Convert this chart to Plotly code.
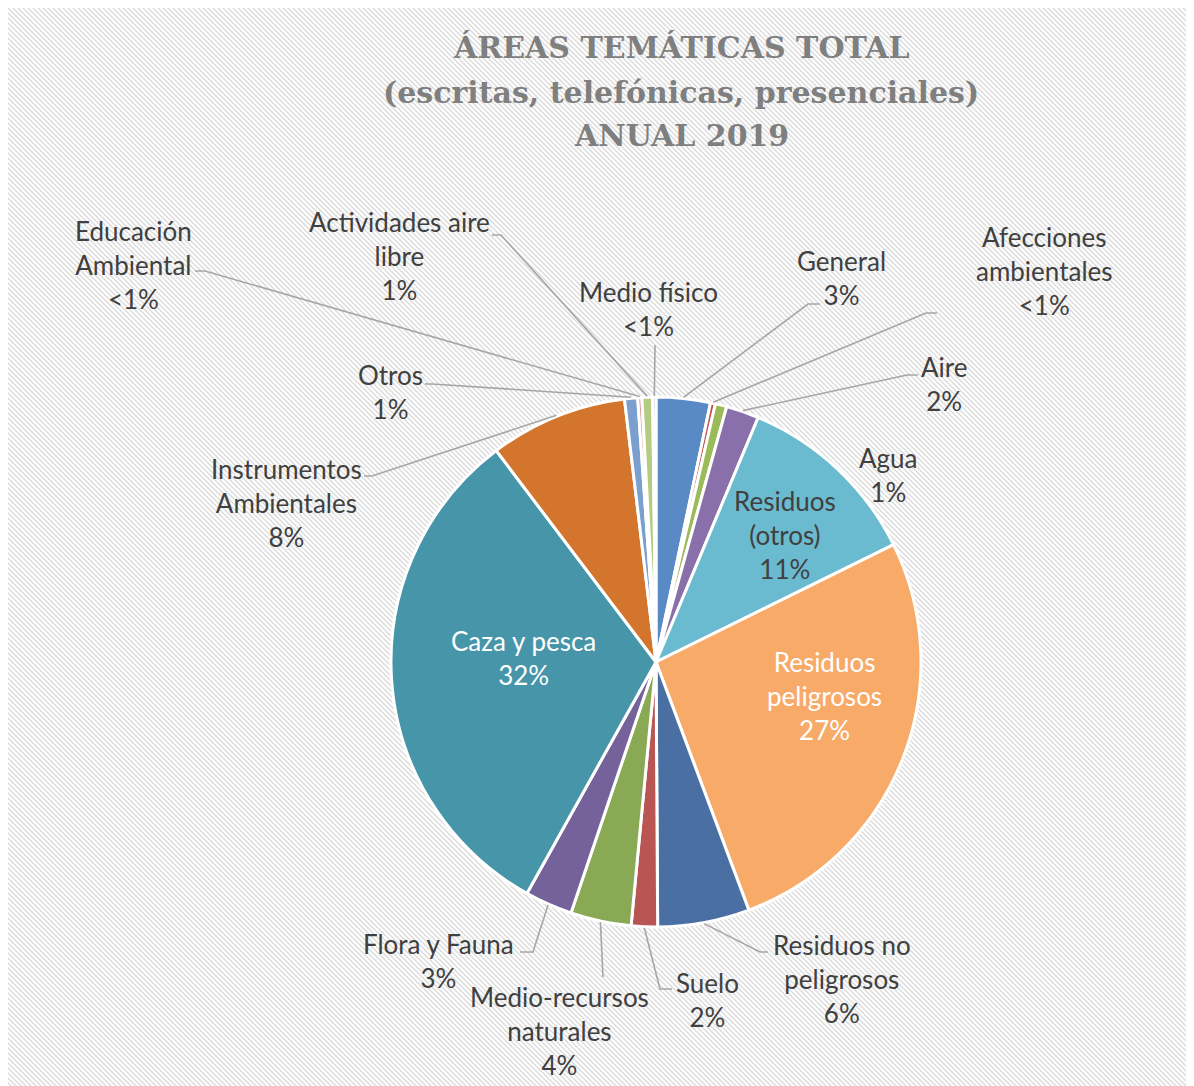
import base64
import math
import plotly.graph_objects as go

# ---------------- data ----------------
categories = [
    "General", "Afecciones ambientales", "Agua", "Aire", "Residuos (otros)",
    "Residuos peligrosos", "Residuos no peligrosos", "Suelo",
    "Medio-recursos naturales", "Flora y Fauna", "Caza y pesca",
    "Instrumentos Ambientales", "Otros", "Educación Ambiental",
    "Actividades aire libre", "Medio físico",
]
values = [3.3, 0.3, 0.7, 2.0, 11.4, 26.6, 5.6, 1.6, 3.7, 2.9, 31.6, 8.4, 0.8, 0.25, 0.65, 0.2]

title_lines = ["ÁREAS TEMÁTICAS TOTAL", "(escritas, telefónicas, presenciales)", "ANUAL 2019"]

# ---------------- styles / layout ----------------
colors = [
    "#5A8AC6", "#C0504D", "#9BBB59", "#8A70AA", "#6BBBD0", "#F8AA68",
    "#4A6FA3", "#B95653", "#8AA955", "#76629A", "#4695A9", "#D3752D",
    "#7BA0D0", "#D9908E", "#B3CC82", "#A896C2",
]

W, H = 1194, 1086          # window size
OFF = 8                    # page body margin
FW, FH = W - OFF, H - OFF  # figure size
CX, CY, R = 656, 662, 265  # pie centre / radius in window px

wrap = {
    "Afecciones ambientales": "Afecciones<br>ambientales",
    "Residuos (otros)": "Residuos<br>(otros)",
    "Residuos peligrosos": "Residuos<br>peligrosos",
    "Residuos no peligrosos": "Residuos no<br>peligrosos",
    "Medio-recursos naturales": "Medio-recursos<br>naturales",
    "Instrumentos Ambientales": "Instrumentos<br>Ambientales",
    "Educación Ambiental": "Educación<br>Ambiental",
    "Actividades aire libre": "Actividades aire<br>libre",
}
label_pos = {
    "General": (841, 278),
    "Afecciones ambientales": (1044, 271),
    "Agua": (888, 475),
    "Aire": (944, 384),
    "Residuos (otros)": (785, 535),
    "Residuos peligrosos": (824, 696),
    "Residuos no peligrosos": (842, 979),
    "Suelo": (707, 1000),
    "Medio-recursos naturales": (559, 1031),
    "Flora y Fauna": (438, 961),
    "Caza y pesca": (523, 658),
    "Instrumentos Ambientales": (286, 503),
    "Otros": (390, 392),
    "Educación Ambiental": (133, 265),
    "Actividades aire libre": (400, 256),
    "Medio físico": (648, 309),
}
white_labels = {"Caza y pesca", "Residuos peligrosos"}
leaders = {
    "General": [(808, 304), (820, 304)],
    "Afecciones ambientales": [(926, 313), (937, 313)],
    "Aire": [(907, 375), (918, 375)],
    "Residuos no peligrosos": [(760, 952), (768, 952)],
    "Suelo": [(660, 989), (672, 989)],
    "Medio-recursos naturales": [(603, 977)],
    "Flora y Fauna": [(533, 952), (520, 952)],
    "Instrumentos Ambientales": [(372, 476), (364, 476)],
    "Otros": [(432, 384), (425, 384)],
    "Educación Ambiental": [(205, 271), (195, 271)],
    "Actividades aire libre": [(501, 235), (492, 235)],
    "Medio físico": [(655, 345)],
}


def px(x, y):
    return (x - OFF) / FW, 1 - (y - OFF) / FH


dx0, dy1 = px(CX - R, CY - R)
dx1, dy0 = px(CX + R, CY + R)

fig = go.Figure()
fig.add_trace(go.Pie(
    labels=categories,
    values=values,
    sort=False,
    direction="clockwise",
    rotation=0,
    marker=dict(colors=colors, line=dict(color="white", width=3)),
    textinfo="none",
    hoverinfo="label+percent",
    showlegend=False,
    domain=dict(x=[dx0, dx1], y=[dy0, dy1]),
))

total = sum(values)
annotations = []
shapes = []
cum = 0.0
for name, v in zip(categories, values):
    pct = v / total * 100
    pct_txt = "<1%" if pct < 0.5 else f"{round(pct)}%"
    txt = wrap.get(name, name) + "<br>" + pct_txt.replace("<", "&lt;")
    lx, ly = label_pos[name]
    ax, ay = px(lx, ly)
    annotations.append(dict(
        x=ax, y=ay, xref="paper", yref="paper", text=txt, showarrow=False,
        xanchor="center", yanchor="middle", align="center",
        font=dict(family="Lato", size=26,
                  color="white" if name in white_labels else "#404040"),
    ))
    f = (cum + v / 2) / total
    cum += v
    if name in leaders:
        th = 2 * math.pi * f
        sx = CX + (R + 1) * math.sin(th)
        sy = CY - (R + 1) * math.cos(th)
        pts = [(sx, sy)] + leaders[name]
        path = ""
        for i, (x, y) in enumerate(pts):
            qx, qy = px(x, y)
            path += ("M" if i == 0 else " L") + f"{qx:.5f},{qy:.5f}"
        shapes.append(dict(type="path", path=path, xref="paper", yref="paper",
                           line=dict(color="#A6A6A6", width=1.6), layer="above"))

# title
title_y = [48, 92, 135]
for t, yy in zip(title_lines, title_y):
    ax, ay = px(681, yy)
    annotations.append(dict(
        x=ax, y=ay, xref="paper", yref="paper", text=f"<b>{t}</b>", showarrow=False,
        xanchor="center", yanchor="middle",
        font=dict(family="DejaVu Serif", size=30, color="#7F7F7F"),
    ))

# chart-area border (top & left visible)
bx0, by0 = px(7, H + 10)
bx1, by1 = px(7, 7)
bx2, by2 = px(W + 10, 7)
shapes.append(dict(type="path", xref="paper", yref="paper",
                   path=f"M{bx0:.5f},{by0:.5f} L{bx1:.5f},{by1:.5f} L{bx2:.5f},{by2:.5f}",
                   line=dict(color="#D9D9D9", width=2), layer="below"))

# hatched background
svg = f'''<svg xmlns="http://www.w3.org/2000/svg" width="{FW}" height="{FH}" viewBox="0 0 {FW} {FH}">
<defs><pattern id="h" patternUnits="userSpaceOnUse" width="5" height="5">
<rect width="5" height="5" fill="#ffffff"/>
<path d="M-1,-1 L6,6 M-1,4 L1,6 M4,-1 L6,1" stroke="#dcdcdc" stroke-width="1.5"/>
</pattern></defs>
<rect width="{FW}" height="{FH}" fill="#ffffff"/>
<rect x="0" y="0" width="{FW}" height="{FH}" fill="url(#h)"/>
</svg>'''
src = "data:image/svg+xml;base64," + base64.b64encode(svg.encode("utf-8")).decode("ascii")

fig.update_layout(
    width=FW, height=FH,
    margin=dict(l=0, r=0, t=0, b=0),
    paper_bgcolor="white",
    plot_bgcolor="rgba(0,0,0,0)",
    annotations=annotations,
    shapes=shapes,
    images=[dict(source=src, xref="paper", yref="paper", x=0, y=1, sizex=1, sizey=1,
                 xanchor="left", yanchor="top", sizing="stretch", layer="below")],
)

fig.write_html("out.html")
